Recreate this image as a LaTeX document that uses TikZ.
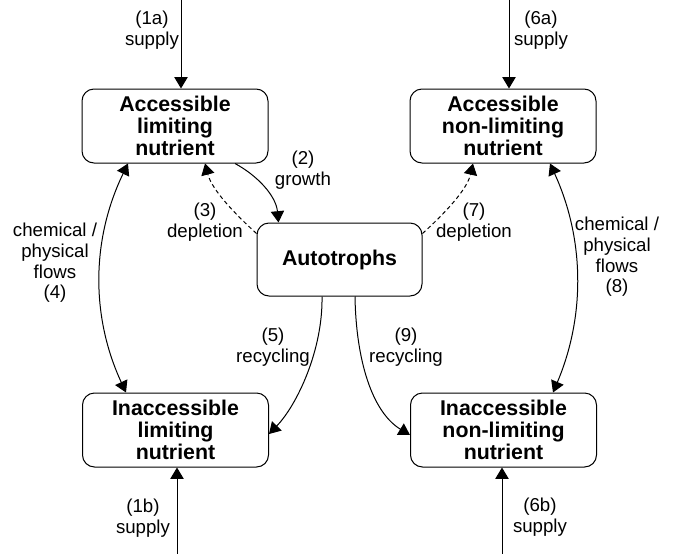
\documentclass[tikz,border=0pt]{standalone}
\usepackage{fontspec}
\setmainfont{Liberation Sans}
\usetikzlibrary{arrows.meta,calc}
\begin{document}
\begin{tikzpicture}[x=0.75pt,y=-0.75pt, line width=0.75pt,
 box/.style={draw, rounded corners=9pt, minimum width=139.5pt, minimum height=55.5pt, inner sep=0pt, align=center, font=\fontsize{16}{16.5}\selectfont\bfseries},
 lab/.style={align=center, inner sep=0pt, font=\fontsize{14}{15.5}\selectfont},
 arr/.style={-{Triangle[length=8.5pt,width=10pt]}},
 darr/.style={{Triangle[length=8.5pt,width=10pt]}-{Triangle[length=8.5pt,width=10pt]}},
 dsh/.style={dash pattern=on 3pt off 2.2pt}]
\useasboundingbox (0,0) rectangle (676,554);
% boxes
\node[box] (A1) at (175,126) {Accessible\\limiting\\nutrient};
\node[box] (A2) at (503,126) {Accessible\\non-limiting\\nutrient};
\node[box, minimum width=123.75pt, minimum height=54.75pt] (Au) at (339.5,259.5) {Autotrophs};
\node[box] (I1) at (175.5,430) {Inaccessible\\limiting\\nutrient};
\node[box] (I2) at (503.5,430) {Inaccessible\\non-limiting\\nutrient};
% supplies
\coordinate (s1a) at (181,0);
\coordinate (s6a) at (509,0);
\coordinate (s1b) at (177,554);
\coordinate (s6b) at (502,554);
\draw[arr] (s1a) -- (s1a |- A1.north);
\draw[arr] (s6a) -- (s6a |- A2.north);
\draw[arr] (s1b) -- (s1b |- I1.south);
\draw[arr] (s6b) -- (s6b |- I2.south);
\node[lab] (l1a) at (152,30) {(1a)\\supply};
\node[lab] (l6a) at (541,30) {(6a)\\supply};
\node[lab] (l1b) at (143,518) {(1b)\\supply};
\node[lab] (l6b) at (540,517) {(6b)\\supply};
% chemical / physical flows
\draw[darr] ($(A1.south)+(-47,0)$) .. controls (91,240) and (91,317) .. ($(I1.north)+(-49.5,0)$);
\draw[darr] ($(A2.south)+(47,0)$) .. controls (585,240) and (585,317) .. ($(I2.north)+(49.5,0)$);
\node[lab] (l4) at (55,263) {chemical /\\physical\\flows\\(4)};
\node[lab] (l8) at (617,257) {chemical /\\physical\\flows\\(8)};
% growth
\draw[arr] ($(A1.south)+(60,0)$) .. controls (258,176) and (276,196) .. ($(Au.north)+(-61,0)$);
\node[lab] (l2) at (303,170) {(2)\\growth};
% depletion
\draw[arr, dsh] ($(Au.north west)+(0,11)$) .. controls (235,214) and (212,190) .. ($(A1.south)+(30,0)$);
\draw[arr, dsh] ($(Au.north east)+(0,11)$) .. controls (444,214) and (467,190) .. ($(A2.south)+(-30,0)$);
\node[lab] (l3) at (205,222) {(3)\\depletion};
\node[lab] (l7) at (474,222) {(7)\\depletion};
% recycling
\draw[arr] ($(Au.south)+(-17.5,0)$) .. controls (323,350) and (297,405) .. ($(I1.east)+(0,4)$);
\draw[arr] ($(Au.south)+(15.5,0)$) .. controls (356,360) and (372,412) .. ($(I2.west)+(0,5)$);
\node[lab] (l5) at (273,347) {(5)\\recycling};
\node[lab] (l9) at (406,347) {(9)\\recycling};
\end{tikzpicture}
\end{document}
